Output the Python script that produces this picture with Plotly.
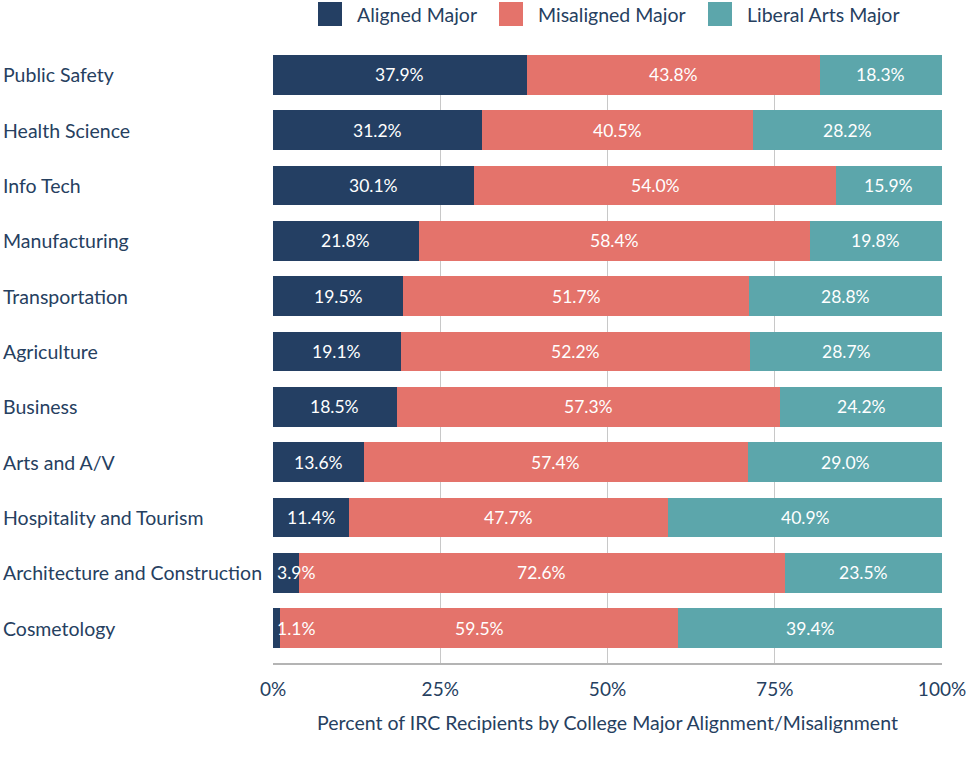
import plotly.graph_objects as go

categories = ["Public Safety", "Health Science", "Info Tech", "Manufacturing",
              "Transportation", "Agriculture", "Business", "Arts and A/V",
              "Hospitality and Tourism", "Architecture and Construction", "Cosmetology"]
aligned = [37.9, 31.2, 30.1, 21.8, 19.5, 19.1, 18.5, 13.6, 11.4, 3.9, 1.1]
misaligned = [43.8, 40.5, 54.0, 58.4, 51.7, 52.2, 57.3, 57.4, 47.7, 72.6, 59.5]
liberal = [18.3, 28.2, 15.9, 19.8, 28.8, 28.7, 24.2, 29.0, 40.9, 23.5, 39.4]
series_names = ["Aligned Major", "Misaligned Major", "Liberal Arts Major"]
tick_vals = [0, 25, 50, 75, 100]
tick_text = ["0%", "25%", "50%", "75%", "100%"]
x_title = "Percent of IRC Recipients by College Major Alignment/Misalignment"

colors = ["#243F63", "#E4736B", "#5CA6AB"]
navy_text = "#26405F"
FONT = "Lato"

W, H = 966, 783
# target plot area in screen pixels: x 273..942, y 55..663
L, R, T, B = 273, W - 942, 55, H - 663
PW, PH = W - L - R, H - T - B


def sx(p):  # screen x pixel -> paper
    return (p - L) / PW


def sy(p):  # screen y pixel -> paper
    return (H - B - p) / PH


fig = go.Figure()
series = [aligned, misaligned, liberal]
for name, vals, col in zip(series_names, series, colors):
    fig.add_trace(go.Bar(
        y=categories, x=vals, orientation="h", name=name,
        marker=dict(color=col, line=dict(width=0)),
        showlegend=False, hoverinfo="x+y",
    ))

fig.update_layout(barmode="stack", barnorm="percent", bargap=0.28)

annotations = []
shapes = []
for i, cat in enumerate(categories):
    vals = [s[i] for s in series]
    total = sum(vals)
    start = 0.0
    for v in vals:
        w = v / total * 100
        label = f"{v:.1f}%"
        if w < 5:
            annotations.append(dict(x=start, y=cat, xref="x", yref="y", text=label,
                                    showarrow=False, xanchor="left", xshift=2,
                                    font=dict(family=FONT, size=17.5, color="white")))
        else:
            annotations.append(dict(x=start + w / 2, y=cat, xref="x", yref="y", text=label,
                                    showarrow=False, xanchor="center",
                                    font=dict(family=FONT, size=17.5, color="white")))
        start += w
    annotations.append(dict(x=sx(1), y=cat, xref="paper", yref="y", text=cat,
                            showarrow=False, xanchor="left",
                            font=dict(family=FONT, size=19.5, color=navy_text)))

# manual legend (large square swatches)
legend_sq_x = [318, 499, 708]
for name, col, lx in zip(series_names, colors, legend_sq_x):
    shapes.append(dict(type="rect", xref="paper", yref="paper",
                       x0=sx(lx), x1=sx(lx + 24),
                       y0=sy(26), y1=sy(2),
                       fillcolor=col, line=dict(width=0)))
    annotations.append(dict(x=sx(lx + 37), y=sy(14),
                            xref="paper", yref="paper", text=name, showarrow=False,
                            xanchor="left", yanchor="middle",
                            font=dict(family=FONT, size=19.5, color=navy_text)))

fig.update_layout(
    width=W, height=H,
    margin=dict(l=L, r=R, t=T, b=B),
    paper_bgcolor="white", plot_bgcolor="white",
    font=dict(family=FONT, size=19, color=navy_text),
    annotations=annotations,
    shapes=shapes,
    showlegend=False,
    xaxis=dict(range=[0, 100], tickvals=tick_vals, ticktext=tick_text,
               automargin=False, ticklabeloverflow="allow",
               showgrid=True, gridcolor="#C8C8C8", gridwidth=1.2,
               showline=True, linecolor="#B4B4B4", linewidth=1.5,
               zeroline=False, ticks="outside", ticklen=8, tickcolor="rgba(0,0,0,0)",
               tickfont=dict(family=FONT, size=19, color=navy_text),
               title=dict(text=x_title, standoff=18,
                          font=dict(family=FONT, size=19.5, color=navy_text))),
    yaxis=dict(categoryorder="array", categoryarray=categories, automargin=False,
               range=[10.63, -0.36], showticklabels=False, showgrid=False,
               zeroline=False, showline=False),
)

fig.write_html("out.html",
               config={"displayModeBar": False},
               post_script="document.body.style.margin='0';document.body.style.overflow='hidden';")
